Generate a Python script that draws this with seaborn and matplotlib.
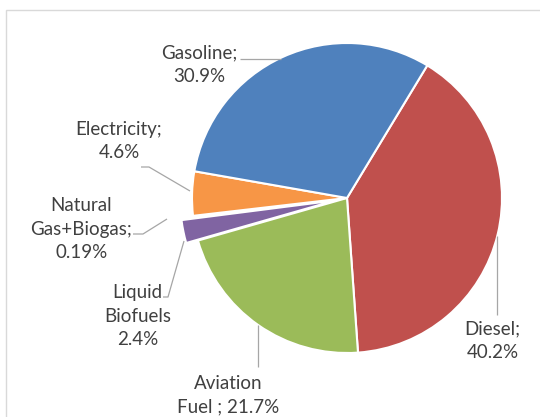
import matplotlib
matplotlib.use("Agg")
import matplotlib.pyplot as plt
import seaborn as sns
from matplotlib.patches import Rectangle

# ---- data ----
categories = ["Diesel", "Aviation Fuel", "Liquid Biofuels", "Natural Gas+Biogas", "Electricity", "Gasoline"]
shares = [40.2, 21.7, 2.4, 0.19, 4.6, 30.9]
label_texts = ["Diesel;\n40.2%", "Aviation\nFuel ; 21.7%", "Liquid\nBiofuels\n2.4%",
               "Natural\nGas+Biogas;\n0.19%", "Electricity;\n4.6%", "Gasoline;\n30.9%"]

# ---- styling / layout ----
colors = ["#C0504D", "#9BBB59", "#8064A2", "#4BACC6", "#F79646", "#4F81BD"]
explode_px = [0, 0, 12, 12, 0, 0]
W, H = 540, 417
# label positions (image px: center x, last-line baseline y)
label_pos = [(492.5, 358), (228, 412), (137.5, 345), (81.5, 258), (119, 158), (199, 82)]
leaders = [
    [(497, 236), (497, 315)],
    [(258, 325), (258, 367)],
    [(163, 297), (168, 297), (184, 241)],
    [(133, 234), (143, 234), (167, 219)],
    [(141, 167), (149, 167), (190, 191)],
    [(240, 59), (281, 59)],
]

sns.set_theme(style="white")
plt.rcParams["font.family"] = ["Lato", "DejaVu Sans"]

fig = plt.figure(figsize=(W / 100, H / 100), dpi=100)
ax = fig.add_axes([0, 0, 1, 1])

fig.patches.append(Rectangle((6 / W, -0.1), 1.2, 1 - 10 / H + 0.1, transform=fig.transFigure,
                             fill=False, edgecolor="#D9D9D9", linewidth=1.0))

pal = sns.color_palette(colors)
ax.pie(shares, colors=pal, explode=explode_px, startangle=58.8, counterclock=False,
       center=(347, H - 198), radius=155, frame=True,
       wedgeprops=dict(edgecolor="white", linewidth=1.5))
ax.set_xlim(0, W)
ax.set_ylim(0, H)
ax.set_aspect("equal")
ax.axis("off")

for pts in leaders:
    xs = [p[0] for p in pts]
    ys = [H - p[1] for p in pts]
    ax.plot(xs, ys, color="#A6A6A6", linewidth=0.9, solid_capstyle="butt")

for txt, (x, y) in zip(label_texts, label_pos):
    ax.text(x, H - y, txt, ha="center", va="baseline", multialignment="center",
            fontsize=13.5, color="#404040", linespacing=1.45)

fig.savefig("out.png", dpi=100)
